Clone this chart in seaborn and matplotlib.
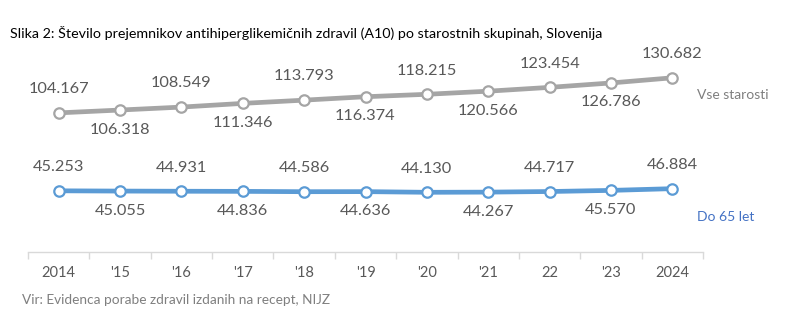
import matplotlib
matplotlib.use("Agg")
import matplotlib.pyplot as plt
import seaborn as sns
import pandas as pd

years = ["2014", "'15", "'16", "'17", "'18", "'19", "'20", "'21", "22", "'23", "2024"]
vse_starosti = [104.167, 106.318, 108.549, 111.346, 113.793, 116.374, 118.215, 120.566, 123.454, 126.786, 130.682]
do_65 = [45.253, 45.055, 44.931, 44.836, 44.586, 44.636, 44.130, 44.267, 44.717, 45.570, 46.884]
series_names = ["Vse starosti", "Do 65 let"]

title = "Slika 2: Število prejemnikov antihiperglikemičnih zdravil (A10) po starostnih skupinah, Slovenija"
source = "Vir: Evidenca porabe zdravil izdanih na recept, NIJZ"

sns.set_style("white")
plt.rcParams['font.family'] = ['Lato', 'DejaVu Sans']

df = pd.DataFrame({
    "year": years * 2,
    "value": vse_starosti + do_65,
    "series": [series_names[0]] * len(years) + [series_names[1]] * len(years),
})

colors = {"Vse starosti": "#A5A5A5", "Do 65 let": "#5B9BD5"}
label_colors = {"Vse starosti": "#7F7F7F", "Do 65 let": "#4472C4"}

fig = plt.figure(figsize=(7.96, 3.27), dpi=100)
ax = fig.add_axes([28 / 796, 1 - 252 / 327, (703 - 28) / 796, (252 - 50) / 327])

sns.lineplot(data=df, x="year", y="value", hue="series", palette=colors,
             sort=False, linewidth=3.4, marker="o", markersize=7.5,
             markerfacecolor="white", markeredgewidth=1.6, legend=False, ax=ax)
for line, name in zip(ax.lines, series_names):
    line.set_markeredgecolor(colors[name])

ax.set_xlim(-0.5, len(years) - 0.5)
ax.set_ylim(-1, 151.7)
ax.set_xlabel("")
ax.set_ylabel("")
ax.set_yticks([])
for s in ["top", "right", "left"]:
    ax.spines[s].set_visible(False)
ax.spines["bottom"].set_color("#D9D9D9")
ax.spines["bottom"].set_linewidth(1)

ax.set_xticks(range(len(years)))
ax.set_xticklabels(years)
ax.set_xticks([i - 0.5 for i in range(len(years) + 1)], minor=True)
ax.tick_params(axis="x", which="major", length=0, pad=10, labelsize=10.5, labelcolor="#595959")
ax.tick_params(axis="x", which="minor", length=5, color="#D9D9D9", width=1, bottom=True)

def fmt(v):
    return f"{v:.3f}"

for name, vals in zip(series_names, [vse_starosti, do_65]):
    for i, v in enumerate(vals):
        if i % 2 == 0:
            ax.annotate(fmt(v), (i, v), xytext=(0, 12), textcoords="offset points",
                        ha="center", va="bottom", fontsize=11.8, color="#595959")
        else:
            ax.annotate(fmt(v), (i, v), xytext=(0, -9), textcoords="offset points",
                        ha="center", va="top", fontsize=11.8, color="#595959")

fig.text(697 / 796, 1 - 95 / 327, series_names[0], ha="left", va="center",
         fontsize=10, color=label_colors[series_names[0]])
fig.text(697 / 796, 1 - 217 / 327, series_names[1], ha="left", va="center",
         fontsize=10, color=label_colors[series_names[1]])

fig.text(10 / 796, 1 - 33 / 327, title, ha="left", va="center", fontsize=10.3, color="black")
fig.text(22 / 796, 1 - 300 / 327, source, ha="left", va="center", fontsize=9.8, color="#7F7F7F")

fig.savefig("out.png", dpi=100)
